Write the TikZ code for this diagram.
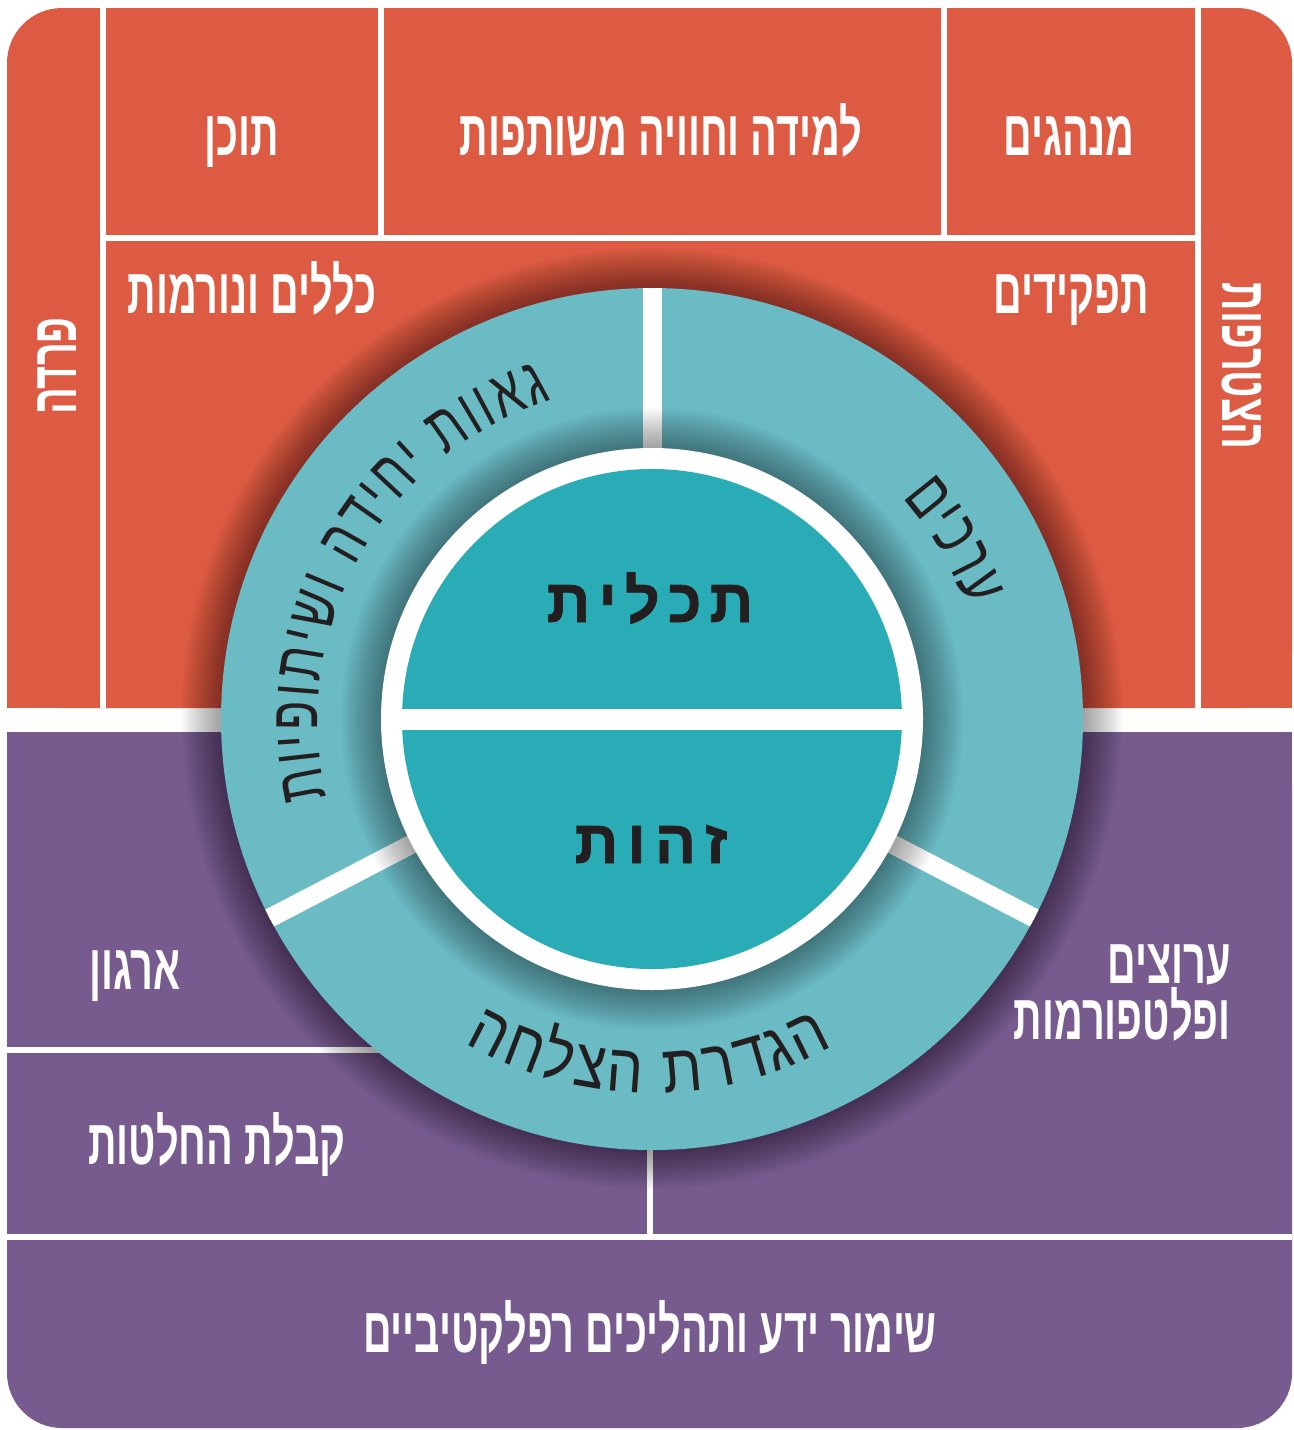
\documentclass[tikz,border=0pt]{standalone}
\usepackage{fontspec}
\usetikzlibrary{decorations.text}
\TeXXeTstate=1
\newfontfamily\boxfont[Script=Hebrew,FakeStretch=0.62]{Liberation Sans}
\newfontfamily\ringfont[Script=Hebrew,FakeStretch=0.7]{Liberation Sans}
\newfontfamily\ringwide[Script=Hebrew,FakeStretch=0.85]{Liberation Sans}
\newfontfamily\corefont[Script=Hebrew,FakeBold=1.2]{Liberation Sans}
\definecolor{redbg}{HTML}{DD5A43}
\definecolor{purplebg}{HTML}{775B8F}
\definecolor{ringteal}{HTML}{6BBBC4}
\definecolor{coreteal}{HTML}{29ACB6}
\definecolor{inkblack}{HTML}{231F20}
\tikzset{
  sepline/.style={white, line width=2.6pt},
  ringdiv/.style={white, line width=9.5pt},
  boxlabel/.style={text=white, inner sep=0pt, anchor=base,
    font=\boxfont\bfseries\fontsize{32}{36}\selectfont},
  corelabel/.style={text=inkblack, inner sep=0pt, anchor=base,
    font=\corefont\bfseries\fontsize{30.5}{34}\selectfont},
  ringtext/.style={decorate, decoration={text along path, text align={fit to path}, text color=inkblack}},
}
\begin{document}
\begin{tikzpicture}[x=0.5pt, y=0.5pt]
\useasboundingbox (0,0) rectangle (1294,-1430);
\coordinate (C) at (652,-719);
% backgrounds
\fill[redbg, rounded corners=27.5pt] (7,-8) rectangle (1292,-708);
\fill[redbg] (7,-400) rectangle (1292,-708);
\fill[purplebg, rounded corners=27.5pt] (7,-732) rectangle (1292,-1428);
\fill[purplebg] (7,-732) rectangle (1292,-1000);
% separators
\draw[sepline] (103,-8) -- (103,-708);
\draw[sepline] (1198,-8) -- (1198,-708);
\draw[sepline] (103,-238) -- (1198,-238);
\draw[sepline] (381,-8) -- (381,-238);
\draw[sepline] (944,-8) -- (944,-238);
\draw[sepline] (7,-1050) -- (652,-1050);
\draw[sepline] (650,-1050) -- (650,-1237);
\draw[sepline] (7,-1237) -- (1292,-1237);
% outer shadow
\foreach \i in {1,...,22} \fill[black, opacity=0.02] (C) circle[radius=431+1.8*\i];
% ring
\fill[ringteal] (C) circle[radius=431];
\begin{scope}
\clip (C) circle[radius=431];
\draw[ringdiv] (C) -- ++(90:440);
\draw[ringdiv] (C) -- ++(207.5:440);
\draw[ringdiv] (C) -- ++(332.5:440);
\end{scope}
% inner shadow
\foreach \i in {1,...,20} \fill[black, opacity=0.018] (C) circle[radius=271+2*\i];
% core
\fill[white] (C) circle[radius=271];
\fill[coreteal] (C) circle[radius=250];
\fill[white] (395,-708.5) rectangle (909,-729.5);
% box labels
\node[boxlabel] (tokhen) at (242,-155) {\beginR תוכן\endR};
\node[boxlabel] (lemida) at (661,-155) {\beginR למידה וחוויה משותפות\endR};
\node[boxlabel] (minhagim) at (1069,-155) {\beginR מנהגים\endR};
\node[boxlabel] (klalim) at (252,-313) {\beginR כללים ונורמות\endR};
\node[boxlabel] (tafkidim) at (1071,-313) {\beginR תפקידים\endR};
\node[boxlabel, rotate=90, anchor=center] (preda) at (57,-366) {\beginR פרדה\endR};
\node[boxlabel, rotate=-90, anchor=center] (hitztarfut) at (1242,-366) {\beginR הצטרפות\endR};
\node[boxlabel] (irgun) at (135,-989) {\beginR ארגון\endR};
\node[boxlabel, align=right, anchor=base east, font=\boxfont\bfseries\fontsize{32}{26.5}\selectfont] (arutzim) at (1231,-1039) {\beginR ערוצים\endR\\\beginR ופלטפורמות\endR};
\node[boxlabel] (kabalat) at (217,-1164) {\beginR קבלת החלטות\endR};
\node[boxlabel] (shimur) at (650,-1352) {\beginR שימור ידע ותהליכים רפלקטיביים\endR};
% core labels
\node[corelabel] (tachlit) at (650,-622) {\beginR ת\kern4pt כ\kern4pt ל\kern4pt י\kern4pt ת\endR};
\node[corelabel] (zehut) at (651,-863) {\beginR ז\kern4.5pt ה\kern4.5pt ו\kern4.5pt ת\endR};
% ring labels
\begin{scope}[shift={(C)}]
\path[ringtext, decoration={text={|\ringfont\fontsize{34}{34}\selectfont|םיכרע}}] (41.5:334) arc[start angle=41.5, end angle=19.5, radius=334];
\path[ringtext, decoration={text={|\ringfont\fontsize{34}{34}\selectfont|תויפותישו הדיחי תוואג}}] (193.5:334) arc[start angle=193.5, end angle=107.5, radius=334];
\path[ringtext, decoration={text={|\ringwide\fontsize{34}{34}\selectfont|החלצה תרדגה}}] (240:374) arc[start angle=240, end angle=299, radius=374];
\end{scope}
\end{tikzpicture}
\end{document}
